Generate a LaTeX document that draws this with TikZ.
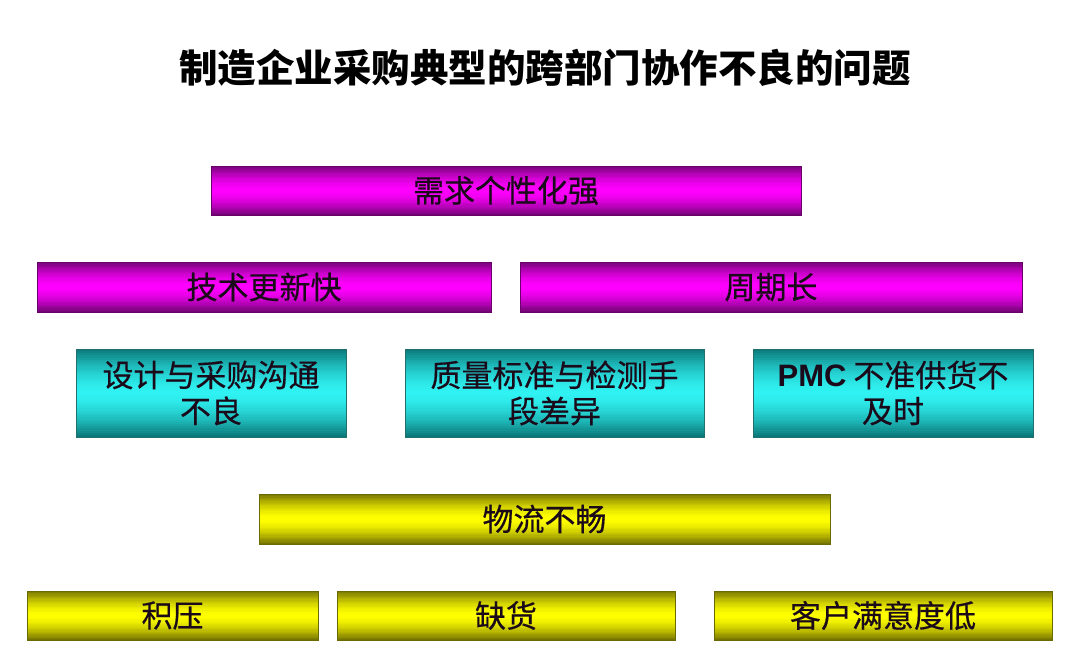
\documentclass[tikz,border=0pt]{standalone}
\usepackage{fontspec}
\usepackage{xcolor}
\usetikzlibrary{calc,backgrounds}
\setmainfont{Liberation Sans}
\newfontfamily\cjk{Noto Sans CJK SC}
\newfontfamily\cjkbar[FakeBold=0.5]{Noto Sans CJK SC}
\newfontfamily\latinbold{Liberation Sans Bold}
\definecolor{magdark}{HTML}{6E0470}
\definecolor{maglight}{HTML}{FF00FF}
\definecolor{magedge}{HTML}{6A006A}
\definecolor{cyandark}{HTML}{0A7474}
\definecolor{cyanlight}{HTML}{30F2F2}
\definecolor{cyanedge}{HTML}{207070}
\definecolor{yeldark}{HTML}{706E00}
\definecolor{yellight}{HTML}{FFFF00}
\definecolor{yeledge}{HTML}{6A6A00}
\definecolor{boxtext}{HTML}{1A0A1A}

% vertical dark-light-dark band behind a named node
\newcommand\barshade[3]{%
  \begin{scope}[on background layer]
    \foreach \i in {0,...,39} {
      \pgfmathsetmacro\pct{100*(1-abs((2*\i+1)/40-1)^1.6)}
      \fill[#3!\pct!#2]
        ($(#1.north west)!\i/40!(#1.south west)$) rectangle
        ($(#1.north east)!{(\i+1.3)/40}!(#1.south east)$);
    }
  \end{scope}%
}

\begin{document}
\begin{tikzpicture}[
    x=1pt, y=1pt,
    title/.style={
        font=\cjk\fontsize{38.5pt}{46pt}\selectfont\bfseries, text=black
    },
    bar/.style={
        rectangle, line width=0.5pt, inner sep=0pt, align=center,
        font=\cjkbar\fontsize{31pt}{36pt}\selectfont, text=boxtext
    },
    magbar/.style={bar, draw=magedge},
    cyanbar/.style={bar, draw=cyanedge},
    yelbar/.style={bar, draw=yeledge}
]

\useasboundingbox (0,0) rectangle (1080,657);

% ==================== TITLE ====================
\node[title] (head) at (545, 589) {制造企业采购典型的跨部门协作不良的问题};

% ==================== MAGENTA ROWS ====================
\node[magbar, minimum width=590, minimum height=49] (d1) at (506, 466.5) {需求个性化强};
\node[magbar, minimum width=454, minimum height=50] (t1) at (264, 370) {技术更新快};
\node[magbar, minimum width=502, minimum height=50] (t2) at (771, 370) {周期长};

% ==================== CYAN ROW ====================
\node[cyanbar, minimum width=270, minimum height=88] (c1) at (211, 264) {设计与采购沟通\\不良};
\node[cyanbar, minimum width=299, minimum height=88] (c2) at (554.5, 264) {质量标准与检测手\\段差异};
\node[cyanbar, minimum width=280, minimum height=88] (c3) at (893, 264) {{\latinbold PMC} 不准供货不\\及时};

% ==================== YELLOW ROWS ====================
\node[yelbar, minimum width=571, minimum height=50] (w1) at (544.5, 138) {物流不畅};
\node[yelbar, minimum width=291, minimum height=49] (b1) at (172.5, 41.5) {积压};
\node[yelbar, minimum width=338, minimum height=49] (b2) at (506, 41.5) {缺货};
\node[yelbar, minimum width=338, minimum height=49] (b3) at (883, 41.5) {客户满意度低};

% ==================== SHADING ====================
\begin{scope}[on background layer]
  \fill[white] (0,0) rectangle (1080,657);
\end{scope}
\foreach \n in {d1,t1,t2} {\barshade{\n}{magdark}{maglight}}
\foreach \n in {c1,c2,c3} {\barshade{\n}{cyandark}{cyanlight}}
\foreach \n in {w1,b1,b2,b3} {\barshade{\n}{yeldark}{yellight}}

\end{tikzpicture}
\end{document}
